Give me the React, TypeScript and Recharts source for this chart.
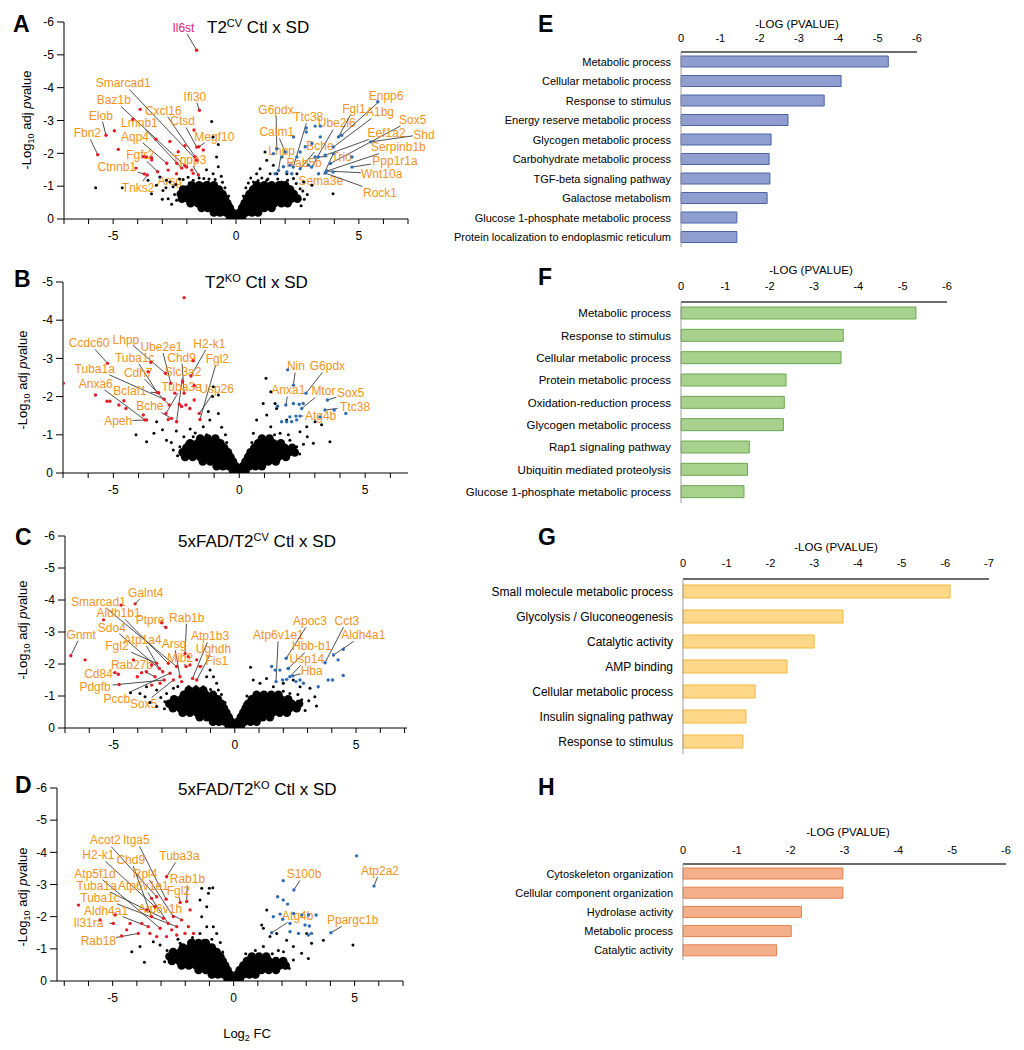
import React from 'react';
import { ScatterChart, Scatter, XAxis, YAxis, ReferenceLine, BarChart, Bar } from 'recharts';

type Pt = [number, number];
type Row = [number, number[]];
type Note = [string, number, number, number, number];

// ---------- volcano A: T2cv Ctl x SD ----------
const coreA: Row[] = [
  [-0.06, [-0.08, -0.25, 0.08, 0.25]],
  [-0.2, [-0.15, -0.4, -0.65, -0.9, 0.15, 0.4, 0.65, 0.9]],
  [-0.34, [-0.25, -0.55, -0.85, -1.15, -1.4, 0.25, 0.55, 0.85, 1.15, 1.45]],
  [-0.48, [-0.35, -0.65, -0.95, -1.25, -1.55, -1.85, 0.35, 0.65, 0.95, 1.25, 1.55, 1.85, 2.1]],
  [-0.62, [-0.45, -0.75, -1.05, -1.35, -1.65, -1.95, -2.2, 0.45, 0.75, 1.05, 1.35, 1.65, 1.95, 2.25, 2.5]],
  [-0.76, [-0.55, -0.85, -1.15, -1.45, -1.75, -2.05, -2.25, 0.55, 0.85, 1.15, 1.45, 1.75, 2.05, 2.35]],
  [-0.9, [-0.7, -1.0, -1.3, -1.6, -1.9, -2.15, 0.7, 1.0, 1.3, 1.6, 1.9, 2.2]],
  [-1.03, [-0.9, -1.2, -1.5, -1.8, 0.85, 1.15, 1.45, 1.75, 2.0]],
];
const blackA: Pt[] = [
  [-5.71, -0.95], [-4.63, -0.95], [-0.99, -2.97], [-0.93, -2.5], [-0.72, -2.27], [-0.79, -1.89], [-0.72, -1.59],
  [-0.93, -1.38], [-1.13, -1.13], [-1.31, -1.23], [-1.47, -1.03], [-1.74, -1.18], [-2.01, -0.98], [-2.22, -0.82],
  [-2.56, -0.98], [-2.83, -1.18], [-2.97, -0.87], [-3.24, -1.03], [-3.58, -1.18], [-3.44, -0.77], [-3.1, -1.28],
  [-2.69, -1.13], [-2.42, -0.57], [-2.76, -0.62], [-2.15, -1.2], [-1.9, -1.1], [-0.85, -1.2], [-0.6, -1.3], [-1.2, -1.5],
  [-2.5, -0.75], [-2.45, -1.05], [-2.3, -1.22], [-1.95, -1.27], [-1.5, -1.25], [-1.1, -1.22], [-0.55, -1.12],
  [-0.45, -0.95], [-2.62, -0.45], [-0.3, -0.7], [-3.0, -0.6], [-2.85, -0.95],
  [1.18, -2.04], [1.25, -1.79], [1.52, -1.64], [1.39, -1.38], [1.66, -1.38], [1.25, -1.18], [1.86, -1.13], [2.2, -0.98],
  [2.34, -1.23], [2.61, -0.92], [2.75, -1.13], [3.09, -1.03], [3.95, -0.77], [0.84, -1.38], [0.98, -1.53], [0.71, -1.13],
  [2.48, -1.38], [2.07, -1.38], [2.9, -0.75], [0.6, -1.25], [1.05, -1.25],
  [0.5, -1.1], [0.9, -1.17], [1.3, -1.22], [1.7, -1.22], [2.1, -1.18], [2.45, -1.08], [2.72, -0.85], [2.78, -0.6],
  [0.4, -0.95], [0.3, -0.7], [2.65, -0.4],
];
const redA: Pt[] = [
  [-1.6, -5.14], [-1.49, -3.31], [-5.29, -2.55], [-5.63, -1.96], [-4.95, -2.69], [-4.79, -2.12], [-4.2, -3.04],
  [-3.9, -3.34], [-3.26, -2.43], [-4.07, -1.55], [-3.73, -1.37], [-3.61, -1.34], [-3.44, -1.87], [-3.65, -1.89],
  [-3.19, -1.44], [-2.82, -1.7], [-2.41, -1.7], [-2.21, -1.55], [-2.69, -2.36], [-2.35, -2.05], [-1.71, -2.71],
  [-1.6, -2.19], [-1.33, -2.1], [-1.67, -1.9], [-1.8, -1.49], [-1.74, -1.39], [-1.53, -1.34], [-2.08, -1.62],
  [-2.76, -1.49], [-3.43, -1.8], [-3.77, -1.9], [-2.08, -2.23], [-1.51, -2.2], [-2.01, -1.58], [-1.6, -1.79], [-2.42, -1.38],
];
const blueA: Pt[] = [
  [1.52, -1.99], [1.66, -2.14], [1.86, -1.89], [2.0, -2.04], [2.34, -2.5], [2.86, -2.77], [3.22, -2.83], [3.43, -2.83],
  [2.86, -2.65], [3.43, -2.5], [3.09, -2.3], [2.82, -2.2], [2.61, -2.04], [2.48, -1.89], [2.2, -1.64], [1.93, -1.59],
  [1.73, -1.48], [1.59, -1.38], [2.07, -1.43], [2.27, -1.38], [2.61, -1.53], [2.95, -1.64], [3.22, -1.89], [3.63, -1.94],
  [3.84, -1.69], [3.7, -1.46], [3.36, -1.38], [3.63, -1.4], [4.17, -2.5], [5.77, -3.57], [4.3, -2.55], [3.96, -2.19],
  [5.48, -2.35], [4.72, -1.89], [4.72, -1.58], [3.95, -1.43], [3.08, -1.58], [2.33, -1.58], [3.35, -1.89], [3.96, -1.99],
];
const notesA: Note[] = [
  ['Il6st', -1.6, -5.14, -2.14, -5.83],
  ['Smarcad1', -1.6, -1.79, -4.59, -4.14],
  ['Baz1b', -2.01, -1.58, -4.97, -3.63],
  ['Elob', -5.29, -2.55, -5.5, -3.16],
  ['Fbn2', -5.63, -1.96, -6.05, -2.62],
  ['Lmnb1', -2.21, -1.55, -3.93, -2.92],
  ['Cxcl16', -1.67, -1.9, -2.96, -3.31],
  ['Ifi30', -1.49, -3.31, -1.67, -3.74],
  ['Ctsd', -1.6, -2.19, -2.17, -2.98],
  ['Aqp4', -2.82, -1.7, -4.11, -2.52],
  ['Megf10', -1.51, -2.2, -0.88, -2.52],
  ['Fgfr2', -3.19, -1.44, -3.9, -1.95],
  ['Ctnnb1', -3.73, -1.37, -4.85, -1.6],
  ['Tppp3', -1.53, -1.34, -1.9, -1.81],
  ['Tnks2', -3.61, -1.34, -3.98, -0.95],
  ['Arsg', -2.41, -1.38, -2.69, -1.18],
  ['G6pdx', 1.66, -2.14, 1.63, -3.33],
  ['Ttc38', 2.33, -1.58, 2.94, -3.11],
  ['Calm1', 2.0, -2.04, 1.66, -2.65],
  ['Lhpp', 1.73, -1.48, 1.86, -2.09],
  ['Ube2l6', 3.08, -1.58, 4.1, -2.92],
  ['Bche', 2.61, -1.53, 3.42, -2.24],
  ['Rab5b', 3.22, -1.89, 2.77, -1.71],
  ['Fgl1', 4.17, -2.5, 4.8, -3.36],
  ['Enpp6', 4.3, -2.55, 6.11, -3.77],
  ['A1bg', 3.96, -2.19, 5.86, -3.26],
  ['Sox5', 3.84, -1.69, 7.19, -3.03],
  ['Eef1a2', 3.63, -1.94, 6.13, -2.62],
  ['Shd', 5.48, -2.35, 7.65, -2.58],
  ['Serpinb1b', 3.7, -1.46, 6.61, -2.19],
  ['Trio', 3.35, -1.89, 4.3, -1.91],
  ['Ppp1r1a', 4.72, -1.58, 6.47, -1.79],
  ['Sema3e', 3.96, -1.99, 3.45, -1.16],
  ['Wnt10a', 3.7, -1.46, 5.93, -1.38],
  ['Rock1', 3.63, -1.4, 5.86, -0.8],
];

// ---------- volcano B: T2ko Ctl x SD ----------
const coreB: Row[] = [
  [-0.06, [-0.08, -0.25, 0.08, 0.25]],
  [-0.18, [-0.15, -0.4, -0.65, -0.9, 0.15, 0.4, 0.65, 0.9]],
  [-0.3, [-0.25, -0.55, -0.85, -1.15, -1.45, 0.25, 0.55, 0.85, 1.15, 1.45]],
  [-0.42, [-0.35, -0.65, -0.95, -1.25, -1.55, -1.85, -2.15, 0.35, 0.65, 0.95, 1.25, 1.55, 1.85]],
  [-0.54, [-0.45, -0.75, -1.05, -1.35, -1.65, -1.95, -2.25, 0.45, 0.75, 1.05, 1.35, 1.65, 1.95, 2.2]],
  [-0.66, [-0.6, -0.9, -1.2, -1.5, -1.8, -2.1, 0.6, 0.9, 1.2, 1.5, 1.8, 2.1]],
  [-0.78, [-0.75, -1.05, -1.35, -1.65, -1.95, 0.75, 1.05, 1.35, 1.65]],
  [-0.9, [-0.95, -1.25, -1.55, 0.9, 1.2]],
];
const blackB: Pt[] = [
  [-3.68, -0.82], [-3.39, -1.04], [-3.05, -1.13], [-2.89, -0.86], [-2.36, -0.69], [-2.62, -0.6], [-2.09, -0.78],
  [-1.83, -0.95], [-1.43, -1.21], [-1.23, -1.61], [-1.06, -2.0], [-1.03, -2.26], [-0.83, -2.04], [-1.17, -1.39],
  [-0.83, -1.56], [-1.56, -0.96], [-3.28, -1.34], [-2.5, -1.1], [-1.95, -1.15], [-0.7, -1.2], [-0.55, -1.0], [-4.1, -1.0],
  [-2.45, -0.45], [-2.2, -0.95], [-1.75, -1.05], [-1.3, -1.0], [-0.5, -0.8], [-2.7, -0.8],
  [1.06, -2.48], [0.95, -1.82], [1.09, -1.52], [1.25, -2.13], [1.42, -1.82], [1.48, -1.69], [1.25, -1.21], [1.62, -1.04],
  [1.88, -1.39], [2.01, -0.86], [2.41, -1.08], [2.68, -1.21], [3.01, -1.34], [3.27, -1.26], [3.6, -0.82], [2.94, -0.78],
  [2.28, -0.69], [0.69, -1.39], [0.56, -1.04], [0.82, -0.86], [2.7, -0.95], [1.4, -1.0],
  [2.4, -0.5], [1.95, -1.0], [0.5, -0.8], [2.55, -0.75],
];
const redB: Pt[] = [
  [-2.19, -4.59], [-6.99, -2.35], [-5.71, -2.04], [-5.25, -1.88], [-5.14, -1.88], [-5.23, -2.87], [-4.78, -1.78],
  [-4.58, -1.89], [-4.5, -1.69], [-3.81, -1.52], [-3.75, -1.39], [-3.68, -1.39], [-3.51, -2.9], [-2.93, -2.61],
  [-3.62, -2.65], [-3.26, -2.11], [-2.98, -1.93], [-2.78, -1.78], [-2.91, -1.56], [-2.82, -1.4], [-2.69, -1.43],
  [-2.49, -1.34], [-2.25, -2.39], [-2.19, -2.09], [-2.38, -1.8], [-2.12, -1.78], [-2.29, -1.74], [-1.96, -1.69],
  [-1.79, -2.29], [-1.79, -1.91], [-1.83, -2.94], [-1.59, -1.56], [-1.56, -1.4], [-1.92, -2.54], [-2.56, -2.09],
  [-2.72, -2.35], [-3.2, -2.1],
];
const blueB: Pt[] = [
  [1.92, -2.7], [2.15, -2.3], [2.65, -2.09], [1.52, -1.75], [1.85, -1.78], [2.15, -1.82], [2.38, -1.8], [2.54, -1.82],
  [2.48, -1.69], [3.5, -1.91], [3.4, -1.65], [4.23, -1.56], [3.77, -1.65], [2.01, -1.47], [2.25, -1.49], [1.68, -1.34],
  [1.88, -1.34], [2.08, -1.34], [2.28, -1.39], [2.41, -1.49], [3.2, -1.47],
];
const notesB: Note[] = [
  ['Ccdc60', -5.23, -2.87, -5.96, -3.41],
  ['Lhpp', -2.93, -2.61, -4.5, -3.5],
  ['Ube2e1', -2.72, -2.35, -3.09, -3.31],
  ['H2-k1', -1.92, -2.54, -1.19, -3.39],
  ['Chd9', -2.19, -2.09, -2.29, -3.03],
  ['Tuba1c', -3.26, -2.11, -4.15, -3.03],
  ['Fgl2', -1.56, -1.4, -0.87, -2.98],
  ['Tuba1a', -2.98, -1.93, -5.74, -2.74],
  ['Cdh7', -2.78, -1.78, -4.01, -2.63],
  ['Slc3a2', -2.49, -1.34, -2.23, -2.65],
  ['Anxa6', -3.75, -1.39, -5.7, -2.35],
  ['Bclaf1', -3.2, -2.1, -4.34, -2.15],
  ['Tuba3e', -2.91, -1.56, -2.29, -2.26],
  ['Usp26', -1.59, -1.56, -0.9, -2.22],
  ['Bche', -2.69, -1.43, -3.55, -1.75],
  ['Apeh', -3.68, -1.39, -4.81, -1.36],
  ['Nin', 2.15, -2.3, 2.25, -2.8],
  ['Anxa1', 1.85, -1.78, 1.95, -2.17],
  ['G6pdx', 2.65, -2.09, 3.5, -2.8],
  ['Mtor', 2.48, -1.69, 3.34, -2.15],
  ['Sox5', 3.5, -1.91, 4.42, -2.1],
  ['Ttc38', 3.4, -1.65, 4.6, -1.74],
  ['Atg4b', 2.41, -1.49, 3.23, -1.5],
];

// ---------- volcano C: 5xFAD/T2cv Ctl x SD ----------
const coreC: Row[] = [
  [-0.06, [-0.08, -0.25, 0.08, 0.25]],
  [-0.2, [-0.15, -0.4, -0.65, -0.9, 0.15, 0.4, 0.65, 0.9]],
  [-0.34, [-0.25, -0.55, -0.85, -1.15, -1.45, 0.25, 0.55, 0.85, 1.15, 1.45]],
  [-0.48, [-0.35, -0.65, -0.95, -1.25, -1.55, -1.85, -2.15, 0.35, 0.65, 0.95, 1.25, 1.55, 1.85, 2.15]],
  [-0.62, [-0.45, -0.75, -1.05, -1.35, -1.65, -1.95, -2.25, -2.55, 0.45, 0.75, 1.05, 1.35, 1.65, 1.95, 2.25, 2.55]],
  [-0.76, [-0.55, -0.85, -1.15, -1.45, -1.75, -2.05, -2.35, -2.7, 0.55, 0.85, 1.15, 1.45, 1.75, 2.05, 2.35, 2.65]],
  [-0.9, [-0.7, -1.0, -1.3, -1.6, -1.9, -2.2, -2.5, 0.7, 1.0, 1.3, 1.6, 1.9, 2.2]],
  [-1.04, [-0.9, -1.2, -1.5, -1.8, -2.1, 0.9, 1.2, 1.5, 1.8]],
  [-1.18, [-1.3, -1.6, -1.9]],
];
const blackC: Pt[] = [
  [-3.91, -1.08], [-3.64, -1.29], [-3.22, -1.19], [-2.81, -1.08], [-3.7, -0.98], [-2.53, -1.24], [-1.16, -1.6],
  [-1.02, -1.81], [-0.88, -1.6], [-0.75, -1.4], [-0.68, -1.19], [-1.3, -1.29], [-2.88, -0.82], [-3.22, -0.67],
  [-2.53, -0.56], [-1.9, -1.3], [-4.3, -1.1], [-3.5, -0.8],
  [-2.9, -0.6], [-2.35, -1.3], [-1.6, -1.3], [-1.0, -1.2], [-0.55, -1.05], [-0.4, -0.8], [-3.05, -0.95],
  [0.65, -1.9], [0.76, -1.5], [1.04, -1.4], [1.31, -1.55], [1.59, -1.29], [2.0, -1.4], [2.27, -1.08], [2.69, -1.29],
  [3.1, -1.24], [3.3, -0.98], [3.37, -0.69], [2.76, -0.88], [2.41, -1.5], [1.17, -1.08], [1.45, -0.98], [0.9, -0.98],
  [3.05, -0.85], [0.5, -1.0], [0.4, -0.75], [2.0, -1.15], [2.6, -1.05], [2.9, -0.55],
];
const redC: Pt[] = [
  [-6.76, -2.26], [-6.17, -2.13], [-4.94, -1.73], [-4.8, -1.68], [-4.77, -1.36], [-5.41, -3.38], [-4.69, -3.84],
  [-4.11, -3.88], [-3.01, -3.29], [-2.84, -3.14], [-4.18, -2.13], [-4.02, -1.6], [-3.84, -1.73], [-3.64, -1.76],
  [-3.43, -1.97], [-3.29, -1.6], [-3.22, -2.02], [-3.11, -1.86], [-2.97, -1.76], [-2.91, -1.5], [-2.74, -2.02],
  [-2.67, -1.71], [-2.53, -1.5], [-2.4, -1.92], [-2.26, -1.6], [-2.19, -1.45], [-2.05, -2.33], [-1.92, -2.23],
  [-2.01, -1.92], [-1.85, -1.97], [-1.74, -1.55], [-1.57, -1.5], [-1.43, -1.92], [-1.57, -2.13], [-3.43, -1.34],
  [-3.08, -1.4],
];
const blueC: Pt[] = [
  [1.52, -1.92], [1.66, -1.81], [1.86, -1.81], [2.12, -2.18], [2.2, -1.86], [1.7, -1.45], [1.97, -1.5], [2.14, -1.52],
  [2.27, -1.6], [2.39, -1.63], [2.52, -1.45], [2.69, -1.5], [2.83, -1.4], [3.72, -2.04], [4.07, -2.28], [4.26, -2.13],
  [4.47, -2.46], [4.47, -1.64], [3.85, -1.5], [4.03, -1.5], [3.44, -1.29], [2.21, -1.86],
];
const notesC: Note[] = [
  ['Gnmt', -6.76, -2.26, -6.33, -2.93],
  ['Smarcad1', -2.4, -1.92, -5.62, -3.95],
  ['Galnt4', -4.11, -3.88, -3.67, -4.23],
  ['Aldh1b1', -2.74, -2.02, -4.79, -3.6],
  ['Ptpre', -2.84, -3.14, -3.49, -3.38],
  ['Rab1b', -2.05, -2.33, -1.98, -3.46],
  ['Sdo4', -2.97, -1.76, -5.07, -3.15],
  ['Atp1a4', -3.11, -1.86, -3.8, -2.77],
  ['Atp1b3', -1.74, -1.55, -1.02, -2.88],
  ['Arsg', -2.26, -1.6, -2.5, -2.63],
  ['Ughdh', -1.57, -1.5, -0.88, -2.49],
  ['Fgl2', -3.22, -2.02, -4.86, -2.56],
  ['Mib2', -2.01, -1.92, -2.25, -2.21],
  ['Fis1', -1.43, -1.92, -0.74, -2.09],
  ['Rab27b', -3.29, -1.6, -4.24, -1.97],
  ['Cd84', -4.94, -1.73, -5.62, -1.71],
  ['Pdgfb', -2.91, -1.5, -5.76, -1.29],
  ['Pccb', -2.67, -1.71, -4.86, -0.93],
  ['Sox5', -2.53, -1.5, -3.76, -0.75],
  ['Atp6v1e1', 1.7, -1.45, 1.8, -2.91],
  ['Apoc3', 2.12, -2.18, 3.1, -3.35],
  ['Cct3', 3.72, -2.04, 4.62, -3.35],
  ['Hbb-b1', 2.2, -1.86, 3.17, -2.56],
  ['Aldh4a1', 4.07, -2.28, 5.3, -2.91],
  ['Usp14', 2.27, -1.6, 2.97, -2.16],
  ['Hba', 2.39, -1.63, 3.17, -1.78],
];

// ---------- volcano D: 5xFAD/T2ko Ctl x SD ----------
const coreD: Row[] = [
  [-0.06, [-0.08, -0.25, 0.08, 0.25]],
  [-0.2, [-0.15, -0.4, -0.65, -0.9, 0.15, 0.4, 0.65, 0.9]],
  [-0.34, [-0.25, -0.55, -0.85, -1.15, -1.45, 0.25, 0.55, 0.85, 1.15, 1.45, 1.75]],
  [-0.48, [-0.35, -0.65, -0.95, -1.25, -1.55, -1.85, -2.15, 0.4, 0.7, 1.0, 1.3, 1.6, 1.9, 2.15]],
  [-0.62, [-0.45, -0.75, -1.05, -1.35, -1.65, -1.95, -2.25, -2.55, 0.55, 0.85, 1.15, 1.45, 1.75, 2.05]],
  [-0.76, [-0.55, -0.85, -1.15, -1.45, -1.75, -2.05, -2.35, -2.65, 0.75, 1.05, 1.35]],
  [-0.9, [-0.7, -1.0, -1.3, -1.6, -1.9, -2.2, -2.5]],
  [-1.04, [-0.9, -1.2, -1.5, -1.8, -2.1]],
  [-1.18, [-1.15, -1.45, -1.75]],
];
const blackD: Pt[] = [
  [-3.69, -0.58], [-3.32, -1.22], [-3.04, -1.12], [-2.49, -0.96], [-2.21, -1.17], [-1.94, -1.07], [-1.66, -1.27],
  [-1.39, -2.52], [-1.32, -2.88], [-1.0, -2.88], [-0.86, -2.9], [-1.04, -2.73], [-1.11, -2.31], [-1.32, -2.0],
  [-1.11, -1.69], [-0.84, -1.69], [-0.7, -1.48], [-1.39, -1.48], [-1.25, -1.27], [-3.87, -1.07], [-4.21, -0.91],
  [-0.55, -1.2], [-0.9, -1.3], [-2.85, -0.6], [-2.75, -0.95], [-2.3, -1.3], [-1.7, -1.35], [-0.45, -0.9],
  [1.16, -1.74], [1.23, -1.64], [1.37, -2.21], [1.5, -1.38], [1.78, -1.48], [2.19, -1.27], [2.47, -1.07], [3.02, -1.48],
  [3.22, -1.17], [2.81, -0.86], [3.09, -0.7], [2.47, -0.65], [3.71, -1.27], [4.93, -1.12], [2.06, -0.91], [1.23, -1.07],
  [0.9, -0.95], [1.6, -0.85], [0.5, -0.85], [2.3, -0.4], [1.85, -0.95],
];
const redD: Pt[] = [
  [-6.41, -2.36], [-5.52, -1.9], [-4.97, -1.79], [-4.9, -2.05], [-4.63, -1.4], [-4.42, -1.59], [-4.28, -1.79],
  [-3.94, -1.48], [-3.8, -1.79], [-3.59, -2.21], [-3.53, -1.69], [-3.39, -2.0], [-3.39, -2.57], [-3.25, -2.31],
  [-3.18, -2.62], [-3.04, -1.64], [-2.9, -1.95], [-2.79, -2.54], [-2.77, -3.24], [-2.7, -1.79], [-2.56, -1.59],
  [-2.49, -2.0], [-2.35, -1.69], [-2.21, -2.44], [-2.15, -1.9], [-2.01, -1.48], [-1.94, -2.47], [-1.87, -1.69],
  [-1.8, -2.21], [-1.66, -1.48], [-3.46, -1.48], [-3.18, -1.38], [-2.77, -1.38], [-2.35, -1.43],
];
const blueD: Pt[] = [
  [2.05, -3.12], [2.49, -2.83], [1.82, -2.62], [2.05, -2.52], [2.23, -2.39], [1.64, -2.0], [1.92, -2.08], [2.03, -1.92],
  [2.48, -2.1], [2.82, -2.05], [3.09, -2.05], [3.41, -2.05], [2.33, -1.79], [2.95, -1.74], [3.13, -1.71], [1.57, -1.5],
  [2.33, -1.53], [2.68, -1.48], [3.09, -1.43], [3.22, -1.48], [4.02, -1.5], [5.8, -2.95], [5.08, -3.89],
];
const notesD: Note[] = [
  ['Acot2', -3.18, -2.62, -5.3, -4.38],
  ['Itga5', -2.79, -2.54, -4.02, -4.38],
  ['H2-k1', -3.25, -2.31, -5.59, -3.92],
  ['Chd9', -3.39, -2.0, -4.25, -3.78],
  ['Tuba3a', -2.77, -3.24, -2.24, -3.89],
  ['Atp5f1d', -3.04, -1.64, -5.73, -3.35],
  ['Rpl4', -2.49, -2.0, -3.66, -3.35],
  ['Rab1b', -1.94, -2.47, -1.91, -3.17],
  ['Atp6v1e1', -2.7, -1.79, -3.73, -2.95],
  ['Fgl2', -2.21, -2.44, -2.28, -2.8],
  ['Tuba1a', -2.9, -1.95, -5.66, -2.97],
  ['Tuba1c', -2.35, -1.69, -5.52, -2.6],
  ['Aldh4a1', -3.53, -1.69, -5.27, -2.2],
  ['Atp6v1h', -2.15, -1.9, -3.04, -2.26],
  ['Il31ra', -4.97, -1.79, -6.0, -1.82],
  ['Rab18', -3.94, -1.48, -5.59, -1.25],
  ['S100b', 2.49, -2.83, 2.91, -3.33],
  ['Atp2a2', 5.8, -2.95, 6.05, -3.43],
  ['Atg4b', 1.57, -1.5, 2.65, -2.02],
  ['Ppargc1b', 4.02, -1.5, 4.92, -1.9],
];

// ---------- GO bar charts ----------
const termsE = [
  'Metabolic process', 'Cellular metabolic process', 'Response to stimulus', 'Energy reserve metabolic process',
  'Glycogen metabolic process', 'Carbohydrate metabolic process', 'TGF-beta signaling pathway', 'Galactose metabolism',
  'Glucose 1-phosphate metabolic process', 'Protein localization to endoplasmic reticulum',
];
const valsE = [-5.27, -4.07, -3.64, -2.72, -2.29, -2.24, -2.26, -2.19, -1.42, -1.42];
const termsF = [
  'Metabolic process', 'Response to stimulus', 'Cellular metabolic process', 'Protein metabolic process',
  'Oxidation-reduction process', 'Glycogen metabolic process', 'Rap1 signaling pathway', 'Ubiquitin mediated proteolysis',
  'Glucose 1-phosphate metabolic process',
];
const valsF = [-5.3, -3.66, -3.61, -2.37, -2.33, -2.31, -1.54, -1.5, -1.42];
const termsG = [
  'Small molecule metabolic process', 'Glycolysis / Gluconeogenesis', 'Catalytic activity', 'AMP binding',
  'Cellular metabolic process', 'Insulin signaling pathway', 'Response to stimulus',
];
const valsG = [-6.11, -3.66, -3.0, -2.38, -1.65, -1.44, -1.37];
const termsH = ['Cytoskeleton organization', 'Cellular component organization', 'Hydrolase activity', 'Metabolic process', 'Catalytic activity'];
const valsH = [-2.97, -2.97, -2.2, -2.01, -1.74];

const FONT = '"Liberation Sans", Arial, Helvetica, sans-serif';
const ORANGE = '#f39320';
const MAGENTA = '#e0247a';
const RED = '#e31e25';
const BLUE = '#2e6db4';

const toPts = (a: Pt[]) => a.map(([x, y]) => ({ x, y }));
const flat = (rows: Row[]) => rows.flatMap(([y, xs]) => xs.map((x) => ({ x, y })));
const dot = (r: number, fill: string) => (p: any) => <circle cx={p.cx} cy={p.cy} r={r} fill={fill} />;
const range = (a: number, b: number) => {
  const out: number[] = [];
  for (let t = Math.ceil(a); t <= b; t++) out.push(t);
  return out;
};

// leader line from the gene's dot to the edge of its label, then the label
const leader = (name: string) => (p: any) => {
  const { x1, y1, x2, y2 } = p;
  const hw = name.length * 3.3 + 1;
  const hh = 6.5;
  const dx = x1 - x2;
  const dy = y1 - y2;
  let t = 1;
  if (Math.abs(dx) > 0.01) t = Math.min(t, hw / Math.abs(dx));
  if (Math.abs(dy) > 0.01) t = Math.min(t, hh / Math.abs(dy));
  const ex = x2 + dx * t;
  const ey = y2 + dy * t;
  return (
    <g>
      {t < 1 && <line x1={x1} y1={y1} x2={ex} y2={ey} stroke="#222" strokeWidth={0.8} />}
      <text x={x2} y={y2} dy="0.36em" textAnchor="middle" fontSize={12} fill={name === 'Il6st' ? MAGENTA : ORANGE}>
        {name}
      </text>
    </g>
  );
};

const VolcanoXTick = (p: any) => {
  const v = p.payload.value;
  if (v % 5 !== 0) return <g />;
  return (
    <text x={p.x} y={p.y} dy="0.71em" textAnchor="middle" fontSize={12} fill="#000">
      {v}
    </text>
  );
};

interface VolcanoProps {
  box: [number, number, number, number];
  xDomain: [number, number];
  yDomain: [number, number];
  core: Row[];
  black: Pt[];
  red: Pt[];
  blue: Pt[];
  notes: Note[];
}

const Volcano: React.FC<VolcanoProps> = ({ box, xDomain, yDomain, core, black, red, blue, notes }) => {
  const [x0, x1, y0, y1] = box;
  const ML = 20, YW = 44, MR = 40, MT = 22, XH = 30, MB = 2;
  return (
    <div style={{ position: 'absolute', left: x0 - ML - YW, top: y0 - MT }}>
      <ScatterChart
        width={x1 - x0 + ML + YW + MR}
        height={y1 - y0 + MT + XH + MB}
        margin={{ top: MT, right: MR, bottom: MB, left: ML }}
      >
        <XAxis
          type="number"
          dataKey="x"
          domain={xDomain}
          ticks={range(xDomain[0], xDomain[1])}
          interval={0}
          allowDataOverflow
          height={XH}
          tickSize={5}
          tickMargin={7}
          stroke="#000"
          tick={VolcanoXTick}
        />
        <YAxis
          type="number"
          dataKey="y"
          domain={yDomain}
          reversed
          ticks={range(yDomain[0], yDomain[1])}
          interval={0}
          allowDataOverflow
          width={YW}
          tickSize={7}
          tickMargin={3}
          stroke="#000"
          tick={{ fill: '#000', fontSize: 12 }}
        />
        <Scatter data={flat(core)} shape={dot(4.3, '#000')} isAnimationActive={false} />
        <Scatter data={toPts(black)} shape={dot(1.5, '#000')} isAnimationActive={false} />
        <Scatter data={toPts(red)} shape={dot(1.7, RED)} isAnimationActive={false} />
        <Scatter data={toPts(blue)} shape={dot(1.7, BLUE)} isAnimationActive={false} />
        {notes.map(([name, px, py, tx, ty], i) => (
          <ReferenceLine
            key={name + i}
            segment={[{ x: px, y: py }, { x: tx, y: ty }]}
            ifOverflow="visible"
            shape={leader(name)}
          />
        ))}
      </ScatterChart>
    </div>
  );
};

interface GoProps {
  box: [number, number, number, number];
  terms: string[];
  vals: number[];
  max: number;
  fill: string;
  stroke: string;
  barSize: number;
  fontSize: number;
  gap: number;
}

const GoBars: React.FC<GoProps> = ({ box, terms, vals, max, fill, stroke, barSize, fontSize, gap }) => {
  const [x0, x1, y0, y1] = box;
  const YW = 300, MT = 16, XH = 24, MR = 20, MB = 4;
  const data = terms.map((name, i) => ({ name, v: vals[i] }));
  return (
    <div style={{ position: 'absolute', left: x0 - YW, top: y0 - MT - XH }}>
      <BarChart
        layout="vertical"
        data={data}
        width={x1 - x0 + YW + MR}
        height={y1 - y0 + MT + XH + MB}
        margin={{ top: MT, right: MR, bottom: MB, left: 0 }}
      >
        <XAxis
          type="number"
          orientation="top"
          domain={[-max, 0]}
          reversed
          ticks={range(-max, 0).reverse()}
          interval={0}
          height={XH}
          tickLine={false}
          tickSize={0}
          tickMargin={gap}
          axisLine={{ stroke: '#3a3a3a', strokeWidth: 1.5 }}
          tick={{ fill: '#000', fontSize: 11 }}
        />
        <YAxis
          type="category"
          dataKey="name"
          width={YW}
          interval={0}
          tickLine={false}
          tickSize={0}
          tickMargin={10}
          axisLine={{ stroke: '#a0a0a0' }}
          tick={{ fill: '#000', fontSize }}
        />
        <Bar dataKey="v" fill={fill} stroke={stroke} strokeWidth={1} barSize={barSize} isAnimationActive={false} />
      </BarChart>
    </div>
  );
};

const Title: React.FC<{ x: number; y: number; pre: string; sup: string }> = ({ x, y, pre, sup }) => (
  <text x={x} y={y} fontSize={17} fill="#000">
    {pre}
    <tspan dy={-6} fontSize={11}>{sup}</tspan>
    <tspan dy={6}> Ctl x SD</tspan>
  </text>
);

const YLab: React.FC<{ x: number; y: number }> = ({ x, y }) => (
  <text transform={`translate(${x},${y}) rotate(-90)`} textAnchor="middle" fontSize={13} fill="#000">
    -Log<tspan dy={3} fontSize={9}>10</tspan>
    <tspan dy={-3}> adj </tspan>
    <tspan fontStyle="italic">p</tspan>value
  </text>
);

const App: React.FC = () => {
  return (
    <div style={{ position: 'absolute', left: 0, top: 0, width: 1024, height: 1050, background: '#fff', fontFamily: FONT }}>
      <Volcano box={[64, 408, 22, 219]} xDomain={[-7, 7]} yDomain={[-6, 0]} core={coreA} black={blackA} red={redA} blue={blueA} notes={notesA} />
      <Volcano box={[63, 408, 282, 473]} xDomain={[-7, 6.7]} yDomain={[-5, 0]} core={coreB} black={blackB} red={redB} blue={blueB} notes={notesB} />
      <Volcano box={[65, 407, 536, 728]} xDomain={[-7, 7.1]} yDomain={[-6, 0]} core={coreC} black={blackC} red={redC} blue={blueC} notes={notesC} />
      <Volcano box={[57, 403, 788, 981]} xDomain={[-7.3, 7]} yDomain={[-6, 0]} core={coreD} black={blackD} red={redD} blue={blueD} notes={notesD} />

      <GoBars box={[681, 917, 52, 247]} terms={termsE} vals={valsE} max={6} fill="#8f9ecf" stroke="#4a64a6" barSize={11} fontSize={11} gap={10} />
      <GoBars box={[681, 947, 302, 503]} terms={termsF} vals={valsF} max={6} fill="#a9d18e" stroke="#6aa84f" barSize={12} fontSize={11.5} gap={12} />
      <GoBars box={[683, 989, 579, 754]} terms={termsG} vals={valsG} max={7} fill="#fdd88a" stroke="#f4b73a" barSize={13} fontSize={12} gap={12} />
      <GoBars box={[683, 1006, 864, 960]} terms={termsH} vals={valsH} max={6} fill="#f4b08a" stroke="#e8804a" barSize={11} fontSize={11} gap={10} />

      <svg width={1024} height={1050} style={{ position: 'absolute', left: 0, top: 0, pointerEvents: 'none' }} fontFamily={FONT}>
        <g fontSize={23} fontWeight="bold" fill="#000">
          <text x={13} y={32}>A</text>
          <text x={14} y={287}>B</text>
          <text x={15} y={545}>C</text>
          <text x={15} y={793}>D</text>
          <text x={538} y={32}>E</text>
          <text x={538} y={285}>F</text>
          <text x={538} y={545}>G</text>
          <text x={538} y={795}>H</text>
        </g>
        <Title x={207} y={33} pre="T2" sup="CV" />
        <Title x={205} y={288} pre="T2" sup="KO" />
        <Title x={178} y={547} pre="5xFAD/T2" sup="CV" />
        <Title x={178} y={795} pre="5xFAD/T2" sup="KO" />
        <YLab x={31} y={120} />
        <YLab x={27} y={380} />
        <YLab x={27} y={630} />
        <YLab x={27} y={897} />
        <text x={247} y={1038} textAnchor="middle" fontSize={13} fill="#000">
          Log<tspan dy={3} fontSize={9}>2</tspan>
          <tspan dy={-3}> FC</tspan>
        </text>
        <g fontSize={11.5} fill="#000" textAnchor="middle">
          <text x={797} y={28}>-LOG (PVALUE)</text>
          <text x={811} y={274}>-LOG (PVALUE)</text>
          <text x={836} y={551}>-LOG (PVALUE)</text>
          <text x={848} y={836}>-LOG (PVALUE)</text>
        </g>
      </svg>
    </div>
  );
};

export default App;
